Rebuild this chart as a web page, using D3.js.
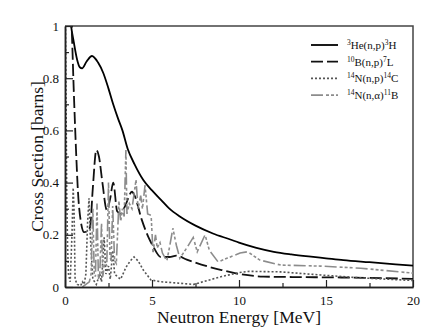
<!DOCTYPE html>
<html>
<head>
<meta charset="utf-8">
<script src="https://cdn.jsdelivr.net/npm/d3@7"></script>
<style>
  body { margin: 0; background: #fff; }
  svg { display: block; font-family: "Liberation Serif", "DejaVu Serif", serif; }
</style>
</head>
<body>
<div id="chart"></div>
<script>
// cross sections [barns] vs neutron energy [MeV]
var he3 = [[0.3,1.03],[0.35,1.0],[0.5,0.94],[0.7,0.87],[0.85,0.842],[0.98,0.838],[1.25,0.865],[1.55,0.885],[1.9,0.86],[2.2,0.82],[2.5,0.76],
	[2.77,0.70],[3.05,0.645],[3.3,0.60],[3.6,0.53],[4.0,0.47],[4.5,0.41],[5.0,0.37],[5.5,0.335],[6.0,0.30],[6.6,0.27],[7.5,0.235],
	[8.5,0.205],[9.5,0.182],[10,0.17],[11,0.15],[12,0.135],[13,0.125],[14,0.117],[15,0.11],[16,0.103],[17.5,0.095],[19,0.087],[20,0.082]];

var b10 = [[0.3,1.1],[0.38,1.0],[0.5,0.76],[0.63,0.53],[0.75,0.36],[0.9,0.255],[1.1,0.21],[1.3,0.215],[1.44,0.23],[1.6,0.38],
	[1.8,0.525],[1.95,0.50],[2.15,0.40],[2.4,0.295],[2.6,0.34],[2.77,0.40],[3.0,0.29],[3.2,0.28],[3.45,0.31],[3.85,0.365],[4.0,0.35],
	[4.4,0.26],[4.8,0.19],[5.07,0.155],[5.5,0.115],[6.0,0.115],[6.4,0.12],[7.0,0.105],[8.3,0.077],[9.0,0.065],[10,0.05],[11.4,0.04],
	[13.3,0.038],[15,0.037],[17.5,0.035],[20,0.031]];

var n14p = [[0.02,1.05],[0.06,0.7],[0.1,0.35],[0.15,0.15],[0.2,0.05],[0.3,0.02],[0.4,0.2],[0.47,0.38],[0.52,0.3],[0.58,0.03],[0.7,0.01],
	[0.9,0.005],[1.0,0.02],[1.1,0.01],[1.2,0.05],[1.3,0.25],[1.38,0.34],[1.45,0.2],[1.6,0.03],[1.8,0.01],[2.0,0.05],[2.1,0.02],
	[2.25,0.19],[2.35,0.05],[2.5,0.08],[2.6,0.03],[2.75,0.14],[2.85,0.05],[3.0,0.04],[3.2,0.03],[3.5,0.075],[3.75,0.10],[3.97,0.115],
	[4.2,0.1],[4.5,0.065],[4.94,0.027],[5.5,0.02],[6.5,0.015],[7.4,0.01],[8.3,0.027],[9.0,0.04],[10,0.055],[10.6,0.06],[12.4,0.058],
	[14.7,0.046],[17,0.035],[20,0.025]];

var n14a = [[1.0,0.0],[1.2,0.01],[1.4,0.02],[1.5,0.05],[1.6,0.3],[1.68,0.05],[1.75,0.04],[1.84,0.32],[1.92,0.03],[2.0,0.05],[2.1,0.245],
	[2.17,0.04],[2.3,0.1],[2.4,0.08],[2.5,0.40],[2.58,0.12],[2.65,0.1],[2.74,0.31],[2.85,0.1],[2.95,0.09],[3.1,0.33],[3.2,0.25],
	[3.3,0.3],[3.4,0.27],[3.5,0.525],[3.56,0.28],[3.7,0.32],[3.85,0.30],[4.08,0.41],[4.2,0.3],[4.35,0.35],[4.45,0.3],[4.6,0.39],
	[4.75,0.28],[4.95,0.275],[5.06,0.13],[5.2,0.2],[5.3,0.15],[5.46,0.17],[5.6,0.13],[5.85,0.1],[6.0,0.15],[6.2,0.225],[6.4,0.16],
	[6.6,0.11],[6.8,0.13],[7.0,0.15],[7.37,0.19],[7.6,0.135],[8.05,0.2],[8.3,0.14],[8.8,0.096],[9.3,0.11],[10.06,0.13],[10.5,0.135],
	[11.2,0.103],[12.4,0.084],[14.7,0.08],[17,0.072],[20,0.053]];

var xMajor = [0, 5, 10, 15, 20],
	xMinor = [2.5, 7.5, 12.5, 17.5],
	yMajor = [0, 0.2, 0.4, 0.6, 0.8, 1],
	yMinor = [0.1, 0.3, 0.5, 0.7, 0.9];

var series = [
	{ data: he3, color: "#000", dash: null, smooth: true, width: 1.8, label: [["3","sup"],["He(n,p)",""],["3","sup"],["H",""]] },
	{ data: b10, color: "#111", dash: "12,4", smooth: true, width: 1.8, label: [["10","sup"],["B(n,p)",""],["7","sup"],["L",""]] },
	{ data: n14p, color: "#555", dash: "2,2", smooth: false, width: 1.6, label: [["14","sup"],["N(n,p)",""],["14","sup"],["C",""]] },
	{ data: n14a, color: "#8c8c8c", dash: "12,3,3,2,3,2,3,3", smooth: false, width: 1.6, label: [["14","sup"],["N(n,\u03b1)",""],["11","sup"],["B",""]] }
];

var svg_width = 436,
	svg_height = 327,
	plotL = 65, plotR = 413, plotT = 26, plotB = 287;

var svg = d3.select("#chart").append("svg")
	.attr("width", svg_width)
	.attr("height", svg_height);

var x = d3.scaleLinear().domain([0, 20]).range([plotL, plotR]);
var y = d3.scaleLinear().domain([0, 1]).range([plotB, plotT]);

svg.append("clipPath").attr("id", "plot")
	.append("rect").attr("x", plotL).attr("y", plotT).attr("width", plotR - plotL).attr("height", plotB - plotT);

// frame top/right
svg.append("path")
	.attr("d", "M" + plotL + "," + plotT + "H" + plotR + "V" + plotB)
	.attr("fill", "none").attr("stroke", "#444").attr("stroke-width", 1.5);

var line = d3.line().x(function (d) { return x(d[0]); }).y(function (d) { return y(d[1]); });

svg.append("g").attr("clip-path", "url(#plot)")
	.selectAll("path").data(series).enter().append("path")
	.attr("d", function (d) { return line.curve(d.smooth ? d3.curveMonotoneX : d3.curveLinear)(d.data); })
	.attr("fill", "none")
	.attr("stroke", function (d) { return d.color; })
	.attr("stroke-width", function (d) { return d.width; })
	.attr("stroke-dasharray", function (d) { return d.dash; });

// axes, ticks pointing inward
function styleAxis(g) {
	g.select(".domain").attr("stroke", "#222").attr("stroke-width", 1.5);
	g.selectAll(".tick line").attr("stroke", "#222").attr("stroke-width", 1.2);
	g.selectAll("text").attr("font-family", "Liberation Serif").attr("font-size", 13).attr("fill", "#111");
}

svg.append("g").attr("transform", "translate(0," + plotB + ")")
	.call(d3.axisBottom(x).tickValues(xMinor).tickSize(-4).tickSizeOuter(0).tickFormat(""))
	.call(styleAxis);
svg.append("g").attr("transform", "translate(0," + plotB + ")")
	.call(d3.axisBottom(x).tickValues(xMajor).tickSize(-7).tickSizeOuter(0).tickPadding(9).tickFormat(d3.format("d")))
	.call(styleAxis);

svg.append("g").attr("transform", "translate(" + plotL + ",0)")
	.call(d3.axisLeft(y).tickValues(yMinor).tickSize(-4).tickSizeOuter(0).tickFormat(""))
	.call(styleAxis);
svg.append("g").attr("transform", "translate(" + plotL + ",0)")
	.call(d3.axisLeft(y).tickValues(yMajor).tickSize(-8).tickSizeOuter(0).tickPadding(6).tickFormat(function (d) { return d3.format("")(d); }))
	.call(styleAxis);

svg.append("text")
	.attr("x", (plotL + plotR) / 2).attr("y", 323)
	.attr("text-anchor", "middle").attr("font-size", 17.5).attr("fill", "#111")
	.text("Neutron Energy [MeV]");

svg.append("text")
	.attr("transform", "translate(43," + (plotT + plotB) / 2 + ") rotate(-90)")
	.attr("text-anchor", "middle").attr("font-size", 17.5).attr("fill", "#111")
	.text("Cross Section [barns]");

// legend
var legend = svg.append("g").selectAll("g").data(series).enter().append("g")
	.attr("transform", function (d, i) { return "translate(311," + (45 + i * 16.7) + ")"; });

legend.append("line")
	.attr("x1", 0).attr("x2", 27).attr("y1", 0).attr("y2", 0)
	.attr("stroke", function (d) { return d.color; })
	.attr("stroke-width", function (d) { return d.width; })
	.attr("stroke-dasharray", function (d) { return d.dash; });

var lt = legend.append("text").attr("x", 36).attr("y", 4).attr("font-size", 11).attr("fill", "#111");
lt.selectAll("tspan").data(function (d) { return d.label; }).enter().append("tspan")
	.attr("font-size", function (p) { return p[1] === "sup" ? 7.5 : 11; })
	.attr("dy", function (p, i) { return p[1] === "sup" ? -4 : (i > 0 ? 4 : 0); })
	.text(function (p) { return p[0]; });
</script>
</body>
</html>
